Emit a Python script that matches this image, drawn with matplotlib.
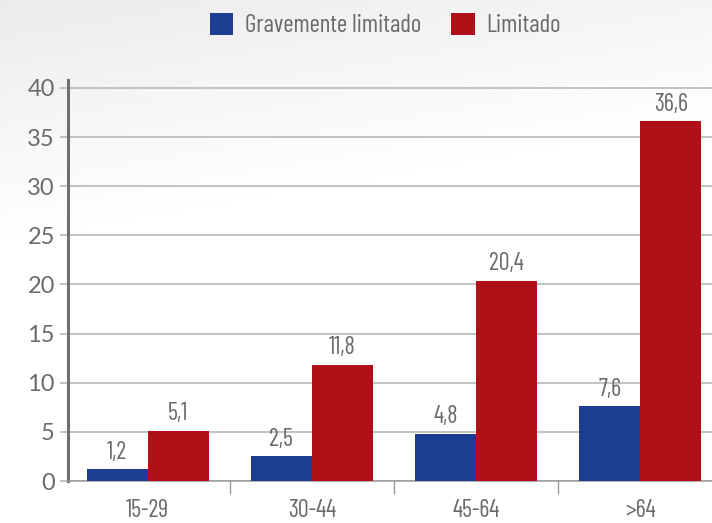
import matplotlib
matplotlib.use("Agg")
import matplotlib.pyplot as plt
import numpy as np
from matplotlib.patches import Patch

categories = ["15-29", "30-44", "45-64", ">64"]
grave = [1.2, 2.5, 4.8, 7.6]
limitado = [5.1, 11.8, 20.4, 36.6]
series_names = ["Gravemente limitado", "Limitado"]
yticks = [0, 5, 10, 15, 20, 25, 30, 35, 40]

blue = "#1d3d93"
red = "#b01119"
txt = "#6b6b6e"
narrow = ["Barlow Condensed", "DejaVu Sans"]

W, H = 712, 523
fig = plt.figure(figsize=(W / 100, H / 100), dpi=100)

# background gradient (light grey at top-left fading to white)
bg = fig.add_axes([0, 0, 1, 1], zorder=-10)
yy, xx = np.mgrid[0:1:200j, 0:1:200j]
g = 0.925 + 0.075 * np.clip(yy * 2.2 + xx * 0.5, 0, 1)
img = np.dstack([g, g, g * 0.997])
bg.imshow(img, extent=[0, 1, 0, 1], aspect="auto", origin="upper")
bg.axis("off")

ax = fig.add_axes([68 / W, 42 / H, (W - 68) / W, 401 / H])
ax.patch.set_alpha(0)

x = np.arange(len(categories))
bw = 0.371
b1 = ax.bar(x - bw / 2, grave, bw, color=blue, zorder=3, label=series_names[0])
b2 = ax.bar(x + bw / 2, limitado, bw, color=red, zorder=3, label=series_names[1])

for bars, vals in ((b1, grave), (b2, limitado)):
    for r, v in zip(bars, vals):
        ax.annotate(f"{v:.1f}".replace(".", ","),
                    (r.get_x() + r.get_width() / 2, r.get_height()),
                    xytext=(0, 4), textcoords="offset points",
                    ha="center", va="bottom", fontsize=17.5,
                    family=narrow, color=txt)

ax.set_xlim(-0.485, 3.437)
ax.set_ylim(0, 40.8)
ax.set_yticks(yticks)
ax.set_yticklabels([str(t) for t in yticks], fontsize=17, family=["Lato", "DejaVu Sans"],
                   color=txt)
ax.yaxis.grid(True, color="#b3b3b3", linewidth=1.1, zorder=0)
ax.tick_params(axis="y", length=5.5, width=1.1, color="#b3b3b3", pad=4)

ax.set_xticks(x)
ax.set_xticklabels(categories, fontsize=17.5, family=narrow, color=txt)
ax.set_xticks([0.5, 1.5, 2.5], minor=True)
ax.tick_params(axis="x", which="major", length=0, pad=13)
ax.tick_params(axis="x", which="minor", length=9, width=1.0, color="#9a9a9a")

for s in ("top", "right"):
    ax.spines[s].set_visible(False)
ax.spines["left"].set_color("#6f6f72")
ax.spines["left"].set_linewidth(2.2)
ax.spines["bottom"].set_color("#9a9a9a")
ax.spines["bottom"].set_linewidth(1.1)

handles = [Patch(facecolor=blue, label=series_names[0]),
           Patch(facecolor=red, label=series_names[1])]
fig.legend(handles=handles, loc="upper center", bbox_to_anchor=(385 / W, 1.0 + 10 / H),
           ncol=2, frameon=False, prop={"family": narrow, "size": 18},
           labelcolor=txt, handlelength=0.95, handleheight=1.0,
           handletextpad=0.45, columnspacing=1.2)

fig.savefig("out.png", dpi=100)
